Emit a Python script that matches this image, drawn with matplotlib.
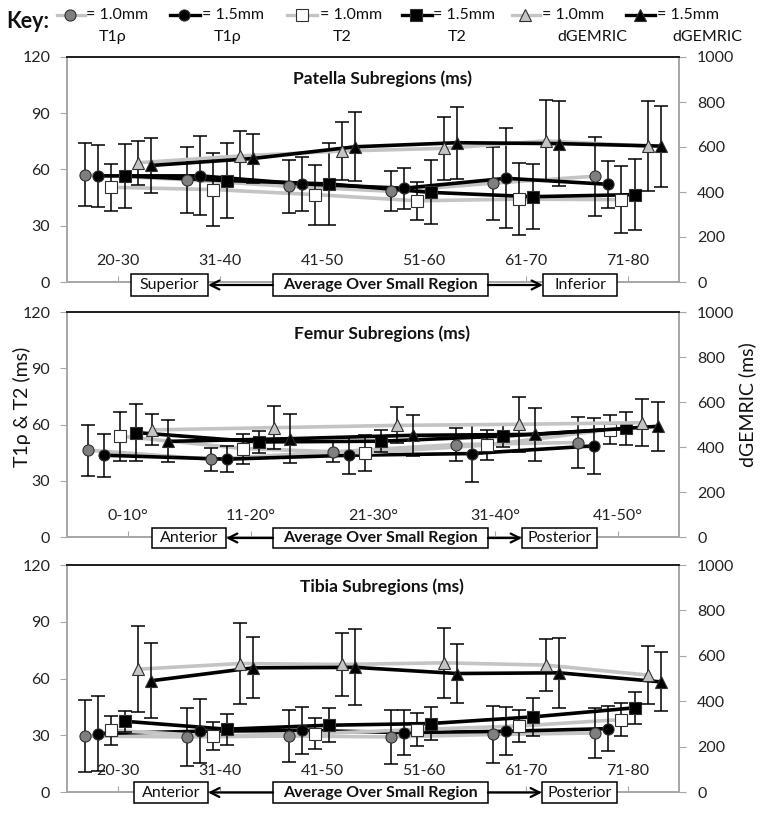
import matplotlib
matplotlib.use("Agg")
import matplotlib.pyplot as plt
from matplotlib.lines import Line2D
from matplotlib.patches import Rectangle
import numpy as np

plt.rcParams['font.family'] = ['Lato', 'DejaVu Sans']

# ---- data (ms) -------------------------------------------------------
pat_cats = ["20-30", "31-40", "41-50", "51-60", "61-70", "71-80"]
fem_cats = ["0-10°", "11-20°", "21-30°", "31-40°", "41-50°"]
tib_cats = ["20-30", "31-40", "41-50", "51-60", "61-70", "71-80"]

pat_t1_10 = [57.3, 54.5, 51.0, 48.4, 52.7, 56.4]
pat_t1_15 = [56.6, 56.6, 52.3, 50.0, 55.3, 52.1]
pat_t2_10 = [50.5, 49.3, 46.6, 43.3, 44.2, 43.9]
pat_t2_15 = [56.6, 54.1, 52.3, 47.8, 45.5, 46.6]
pat_dg_10 = [530, 560, 582, 594, 627, 604]
pat_dg_15 = [518, 549, 601, 619, 615, 604]
pat_t1_10_sd = [17, 17.5, 14, 10.7, 19.5, 21]
pat_t1_15_sd = [16.5, 21, 14.6, 11, 26.6, 12.5]
pat_t2_10_sd = [12.5, 19.5, 16, 10, 19, 17.7]
pat_t2_15_sd = [17, 20, 22, 17, 17.4, 19]
pat_dg_10_sd = [97, 113, 130, 140, 180, 200]
pat_dg_15_sd = [124, 110, 153, 160, 190, 180]

fem_t1_10 = [46.3, 41.5, 45.4, 49.3, 50.4]
fem_t1_15 = [43.6, 41.5, 43.6, 44.5, 48.6]
fem_t2_10 = [53.8, 47.2, 44.9, 49.0, 57.3]
fem_t2_15 = [55.7, 50.7, 51.1, 53.8, 57.9]
fem_dg_10 = [476, 486, 496, 501, 508]
fem_dg_15 = [425, 437, 452, 456, 492]
fem_t1_10_sd = [13.7, 6.2, 5.5, 9, 13.5]
fem_t1_15_sd = [11.5, 7, 10, 15, 15]
fem_t2_10_sd = [13, 8, 9.5, 8, 7.7]
fem_t2_15_sd = [15, 6, 6, 6, 9]
fem_dg_10_sd = [69, 96, 80, 122, 104]
fem_dg_15_sd = [93, 110, 92, 117, 110]

tib_t1_10 = [29.6, 29.1, 29.6, 29.1, 30.4, 31.2]
tib_t1_15 = [30.9, 32.1, 32.6, 31.4, 32.1, 33.5]
tib_t2_10 = [32.6, 29.6, 30.9, 33.0, 34.9, 38.3]
tib_t2_15 = [37.4, 33.2, 35.3, 36.2, 39.7, 44.5]
tib_dg_10 = [541, 566, 562, 569, 559, 515]
tib_dg_15 = [490, 547, 549, 522, 525, 485]
tib_t1_10_sd = [18.8, 15.5, 13.7, 14.1, 15, 13]
tib_t1_15_sd = [19.8, 17, 12.4, 12, 12.7, 11.8]
tib_t2_10_sd = [7.6, 7.6, 8.2, 8.8, 8.6, 8.5]
tib_t2_15_sd = [5.5, 8.2, 9.1, 8.5, 10.1, 8.6]
tib_dg_10_sd = [190, 177, 140, 153, 114, 128]
tib_dg_15_sd = [165, 135, 167, 128, 155, 130]

# ---- styles ----------------------------------------------------------
LGRAY = '#c4c4c4'
AXGRAY = '#a6a6a6'
styles = [
    dict(line=LGRAY, marker='o', face='#7f7f7f'),
    dict(line='black', marker='o', face='black'),
    dict(line=LGRAY, marker='s', face='white'),
    dict(line='black', marker='s', face='black'),
    dict(line=LGRAY, marker='^', face=LGRAY),
    dict(line='black', marker='^', face='black'),
]

W, H = 762, 813
fig = plt.figure(figsize=(W / 100, H / 100), dpi=100)


def px_rect(x0, x1, ytop, ybot):
    return [x0 / W, 1 - ybot / H, (x1 - x0) / W, (ybot - ytop) / H]


def panel(rect, title, cats, vals, sds, boxes):
    ax = fig.add_axes(rect)
    ax2 = ax.twinx()
    n = len(cats)
    base = np.arange(n) + 0.5
    for k in range(6):
        st = styles[k]
        x = base + (k - 2.5) * 0.13
        a = ax if k < 4 else ax2
        a.plot(x, vals[k], color=st['line'], lw=2.6, zorder=2)
        a.errorbar(x, vals[k], yerr=sds[k], fmt='none', ecolor='black',
                   elinewidth=1.1, capsize=5, capthick=1.1, zorder=3)
        a.plot(x, vals[k], ls='none', marker=st['marker'], ms=8,
               mfc=st['face'], mec='#303030', mew=0.8, zorder=4)
    for i, c in enumerate(cats):
        ax.text(base[i], 11, c, ha='center', va='center', fontsize=11.5,
                color='#222222')
    ax.set_xlim(0, n)
    ax.set_ylim(0, 120)
    ax2.set_ylim(0, 1000)
    ax.set_yticks([0, 30, 60, 90, 120])
    ax2.set_yticks([0, 200, 400, 600, 800, 1000])
    ax.set_xticks(base)
    ax.set_xticklabels([])
    ax.tick_params(axis='x', direction='in', length=4, color=AXGRAY)
    ax.tick_params(axis='y', direction='out', length=5, color=AXGRAY,
                   labelsize=11.5, labelcolor='#222222', pad=7)
    ax2.tick_params(axis='y', direction='out', length=5, color=AXGRAY,
                    labelsize=11.5, labelcolor='#222222', pad=8)
    for a in (ax, ax2):
        for s in ('left', 'right', 'bottom'):
            a.spines[s].set_color(AXGRAY)
            a.spines[s].set_linewidth(1.2)
        a.spines['top'].set_color('#222222')
        a.spines['top'].set_linewidth(1.4)
    ax.text(0.515, 0.905, title, transform=ax.transAxes, ha='center',
            va='center', fontsize=12.5, fontweight='bold', color='#111111')

    # region boxes under the axis
    (lx0, lx1, ltxt), (rx0, rx1, rtxt), (yb, yt) = boxes
    ax0, ax1 = 0.3366, 0.6879
    for x0, x1, txt, bold in [(lx0, lx1, ltxt, False), (ax0, ax1,
                              "Average Over Small Region", True),
                              (rx0, rx1, rtxt, False)]:
        ax2.add_patch(Rectangle((x0, yb), x1 - x0, yt - yb,
                                transform=ax2.transAxes, fc='white',
                                ec='black', lw=1.1, clip_on=False,
                                zorder=10))
        ax2.text((x0 + x1) / 2, (yb + yt) / 2, txt, transform=ax2.transAxes,
                 ha='center', va='center', fontsize=11.5 if bold else 11.5,
                 fontweight='bold' if bold else 'normal', zorder=11,
                 color='#111111')
    yc = (yb + yt) / 2
    for xs, xe in [(ax0, lx1), (ax1, rx0)]:
        ax2.annotate('', xy=(xe, yc), xytext=(xs, yc),
                     xycoords='axes fraction', textcoords='axes fraction',
                     arrowprops=dict(arrowstyle='->', lw=1.6, color='black',
                                     mutation_scale=16, shrinkA=0,
                                     shrinkB=0),
                     zorder=10)
    return ax, ax2


panel(px_rect(67, 679, 57, 282), "Patella Subregions (ms)", pat_cats,
      [pat_t1_10, pat_t1_15, pat_t2_10, pat_t2_15, pat_dg_10, pat_dg_15],
      [pat_t1_10_sd, pat_t1_15_sd, pat_t2_10_sd, pat_t2_15_sd, pat_dg_10_sd,
       pat_dg_15_sd],
      ((0.1046, 0.2304, "Superior"), (0.7778, 0.8987, "Inferior"),
       (-0.0622, 0.0356)))

panel(px_rect(67, 679, 312, 537), "Femur Subregions (ms)", fem_cats,
      [fem_t1_10, fem_t1_15, fem_t2_10, fem_t2_15, fem_dg_10, fem_dg_15],
      [fem_t1_10_sd, fem_t1_15_sd, fem_t2_10_sd, fem_t2_15_sd, fem_dg_10_sd,
       fem_dg_15_sd],
      ((0.1389, 0.2598, "Anterior"), (0.7435, 0.8660, "Posterior"),
       (-0.0489, 0.04)))

panel(px_rect(67, 679, 565, 792), "Tibia Subregions (ms)", tib_cats,
      [tib_t1_10, tib_t1_15, tib_t2_10, tib_t2_15, tib_dg_10, tib_dg_15],
      [tib_t1_10_sd, tib_t1_15_sd, tib_t2_10_sd, tib_t2_15_sd, tib_dg_10_sd,
       tib_dg_15_sd],
      ((0.1095, 0.2304, "Anterior"), (0.7761, 0.8987, "Posterior"),
       (-0.0485, 0.044)))

fig.text(22 / W, 1 - 407 / H, "T1ρ & T2 (ms)", rotation=90, ha='center',
         va='center', fontsize=14, color='#111111')
fig.text(747 / W, 1 - 405 / H, "dGEMRIC (ms)", rotation=90, ha='center',
         va='center', fontsize=14, color='#111111')

# ---- key ------------------------------------------------------------
fig.text(6 / W, 1 - 22 / H, "Key:", ha='left', va='center', fontsize=15.5,
         fontweight='bold', color='#111111')
key_sizes = ["= 1.0mm", "= 1.5mm", "= 1.0mm", "= 1.5mm", "= 1.0mm", "= 1.5mm"]
key_names = ["T1ρ", "T1ρ", "T2", "T2", "dGEMRIC", "dGEMRIC"]
key_pos = [(57, 85, 70, 86, 113), (170, 200, 184, 202, 228),
           (287, 317, 302, 320, 342), (402, 432, 416, 433, 457),
           (512, 540, 525, 542, 592), (626, 655, 640, 657, 707)]
for k, (x0, x1, xm, xt, xn) in enumerate(key_pos):
    st = styles[k]
    fy = 1 - 15 / H
    fig.add_artist(Line2D([x0 / W, x1 / W], [fy, fy], color=st['line'],
                          lw=2.4, transform=fig.transFigure))
    fig.add_artist(Line2D([xm / W], [fy], ls='none', marker=st['marker'],
                          ms=8, mfc=st['face'], mec='#303030', mew=0.8,
                          transform=fig.transFigure))
    fig.text(xt / W, fy, key_sizes[k], ha='left', va='center', fontsize=11.5,
             color='#111111')
    fig.text(xn / W, 1 - 37 / H, key_names[k], ha='center', va='center',
             fontsize=11.5, color='#111111')

fig.savefig("out.png", dpi=100)
